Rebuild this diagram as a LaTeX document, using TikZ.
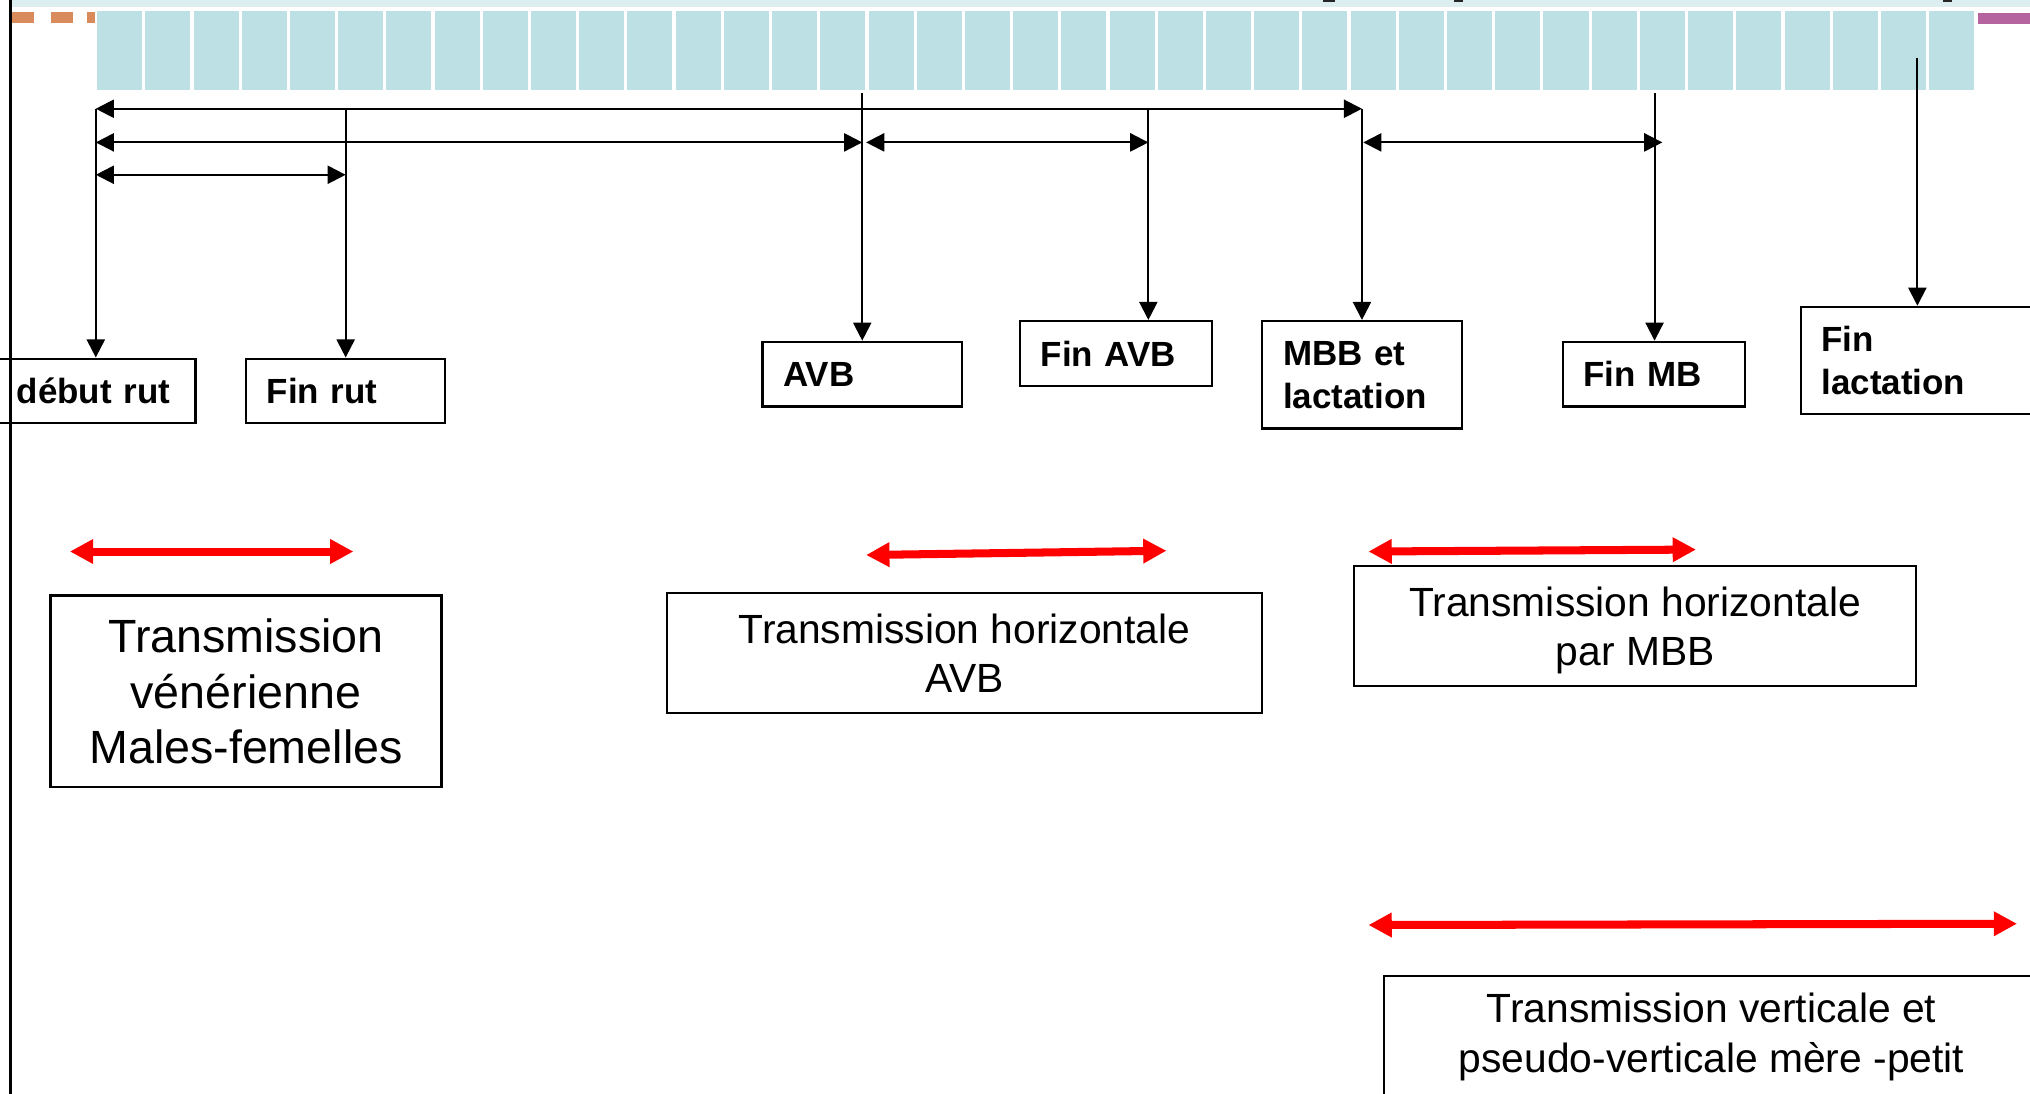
\documentclass[tikz,border=0pt]{standalone}
\usepackage{fontspec}
\setmainfont{Liberation Sans}
\usetikzlibrary{arrows.meta}
\definecolor{cellc}{HTML}{BCE0E3}
\definecolor{stripc}{HTML}{DCEEF0}
\definecolor{orangec}{HTML}{D98B5C}
\definecolor{magc}{HTML}{B5649F}
\begin{document}
\begin{tikzpicture}[x=0.5pt,y=-0.5pt,
  conn/.style={line width=0.8pt,-{Triangle[length=7pt,width=7pt]}},
  dbl/.style={line width=0.8pt,{Triangle[length=7pt,width=7pt]}-{Triangle[length=7pt,width=7pt]}},
  redarr/.style={line width=3.1pt,red,{Triangle[length=9pt,width=9pt]}-{Triangle[length=9pt,width=9pt]}},
  lbl/.style={draw,line width=0.85pt,font=\bfseries\fontsize{13.5}{16.5}\selectfont,align=left,inner xsep=8pt,inner ysep=0pt},
  tbox/.style={draw,line width=0.85pt,align=center,inner sep=0pt,font=\fontsize{15.75}{19}\selectfont}
]
\useasboundingbox (0,0) rectangle (1568,845);
\clip (0,0) rectangle (1568,845);
% top decoration
\fill[stripc] (9,0) rectangle (1568,5.7);
\fill[orangec] (9,9.5) rectangle (26,18);
\fill[orangec] (39.5,9.5) rectangle (56.5,18);
\fill[orangec] (67,9.5) rectangle (73,18);
\fill[magc] (1528,9.8) rectangle (1568,18.5);
\foreach \i in {0,...,38} \fill[cellc] ({75+\i*37.24},8.5) rectangle ({75+\i*37.24+34.8},69.5);
\fill[black!85] (1022,0) rectangle (1031,1.3);
\fill[black!85] (1123,0) rectangle (1130,1.3);
\fill[black!85] (1501,0) rectangle (1508,1.5);
\draw[line width=1.1pt] (8,0) -- (8,845);

% label boxes
\node[lbl,text width=61pt,minimum height=25pt] (drut) at (74,302) {début rut};
\node[lbl,text width=61pt,minimum height=25pt] (frut) at (267,302) {Fin rut};
\node[lbl,text width=61pt,minimum height=25pt] (avb) at (666,289) {AVB};
\node[lbl,text width=58pt,minimum height=25pt] (favb) at (862,273) {Fin AVB};
\node[lbl,text width=61pt,minimum height=41.5pt] (mbb) at (1052,289.5) {MBB et\\lactation};
\node[lbl,text width=54.5pt,minimum height=25pt] (fmb) at (1277.5,289) {Fin MB};
\node[lbl,text width=98.5pt,minimum height=41.5pt] (flac) at (1505.5,278.5) {Fin\\lactation};

% text boxes
\node[tbox,minimum width=151pt,minimum height=74pt,font=\fontsize{18}{21.5}\selectfont] (t1) at (190,534) {Transmission\\vénérienne\\Males-femelles};
\node[tbox,minimum width=230pt,minimum height=46.5pt] (t2) at (745,504.5) {Transmission horizontale\\AVB};
\node[tbox,minimum width=217pt,minimum height=46.5pt] (t3) at (1263,483.5) {\rule{0pt}{15pt}Transmission horizontale\\par MBB};
\node[tbox,minimum width=253pt,minimum height=47pt] (t4) at (1322,801) {Transmission verticale et\\pseudo-verticale mère -petit};

% connector origins
\coordinate (c1) at (74,84);
\coordinate (c2) at (267,84);
\coordinate (c3) at (666,72);
\coordinate (c4) at (887,84);
\coordinate (c5) at (1052,84);
\coordinate (c6) at (1278,72);
\coordinate (c7) at (1481,45);
\draw[conn] (c1) -- (c1 |- drut.north);
\draw[conn] (c2) -- (c2 |- frut.north);
\draw[conn] (c3) -- (c3 |- avb.north);
\draw[conn] (c4) -- (c4 |- favb.north);
\draw[conn] (c5) -- (c5 |- mbb.north);
\draw[conn] (c6) -- (c6 |- fmb.north);
\draw[conn] (c7) -- (c7 |- flac.north);

% horizontal spans
\coordinate (h2a) at (74,110);
\coordinate (h2b) at (666,110);
\coordinate (h3a) at (669,110);
\coordinate (h3b) at (887,110);
\coordinate (h4a) at (1053,110);
\coordinate (h4b) at (1284,110);
\coordinate (h5a) at (74,135);
\coordinate (h5b) at (267,135);
\draw[dbl] (c1) -- (c5);
\draw[dbl] (h2a) -- (h2b);
\draw[dbl] (h3a) -- (h3b);
\draw[dbl] (h4a) -- (h4b);
\draw[dbl] (h5a) -- (h5b);

% red spans
\coordinate (r1a) at (54,426);
\coordinate (r1b) at (273,426);
\coordinate (r2a) at (669,428.7);
\coordinate (r2b) at (901,425.4);
\coordinate (r3a) at (1057,426);
\coordinate (r3b) at (1310,424.5);
\coordinate (r4a) at (1057,714.5);
\coordinate (r4b) at (1558,713.5);
\draw[redarr] (r1a) -- (r1b);
\draw[redarr] (r2a) -- (r2b);
\draw[redarr] (r3a) -- (r3b);
\draw[redarr] (r4a) -- (r4b);
\end{tikzpicture}
\end{document}
